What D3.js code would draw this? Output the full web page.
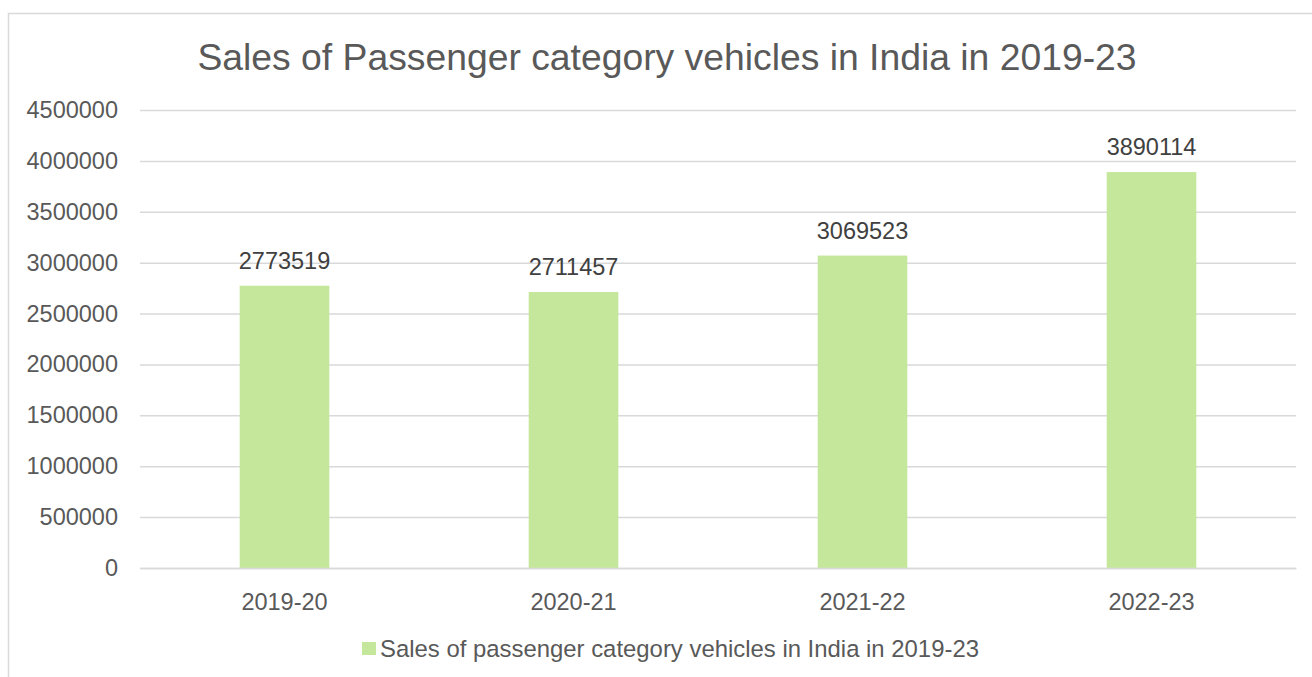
<!DOCTYPE html>
<html>
<head>
<meta charset="utf-8">
<script src="https://cdn.jsdelivr.net/npm/d3@7"></script>
<style>
  html, body { margin: 0; padding: 0; background: #fff; }
  svg { display: block; font-family: "Liberation Sans", Arial, sans-serif; }
</style>
</head>
<body>
<svg id="chart" width="1312" height="677"></svg>
<script>
// Passenger vehicle sales by fiscal year
const years = ["2019-20", "2020-21", "2021-22", "2022-23"];
const sales = [2773519, 2711457, 3069523, 3890114];
const yTicks = [0, 500000, 1000000, 1500000, 2000000, 2500000, 3000000, 3500000, 4000000, 4500000];
const chartTitle = "Sales of Passenger category vehicles in India in 2019-23";
const seriesName = "Sales of passenger category vehicles in India in 2019-23";

const W = 1312, H = 677;
const plot = { left: 140, right: 1296, top: 110, bottom: 568 };
const textColor = "#595959";
const gridColor = "#d9d9d9";
const barColor = "#c5e79b";

const svg = d3.select("#chart");

// chart area outline (continues past the right and bottom edges)
svg.append("rect")
  .attr("x", 8.5).attr("y", 13.5)
  .attr("width", 1340).attr("height", 700)
  .attr("fill", "#fff")
  .attr("stroke", gridColor).attr("stroke-width", 1.5);

const x = d3.scaleBand().domain(years).range([plot.left, plot.right]).paddingInner(0.69).paddingOuter(0.345);
const y = d3.scaleLinear().domain([0, 4500000]).range([plot.bottom, plot.top]);

// horizontal gridlines + value labels
const yAxis = d3.axisLeft(y).tickValues(yTicks).tickSize(-(plot.right - plot.left)).tickPadding(22).tickFormat(d3.format("d"));
const gy = svg.append("g").attr("transform", `translate(${plot.left},0)`).call(yAxis);
gy.select(".domain").remove();
gy.selectAll(".tick line").attr("stroke", gridColor).attr("stroke-width", 1.5);
gy.selectAll(".tick text").attr("fill", textColor).attr("font-size", 23.5).attr("font-family", "Liberation Sans, Arial, sans-serif");

// bars
svg.append("g").selectAll("rect").data(years).join("rect")
  .attr("x", d => x(d))
  .attr("width", x.bandwidth())
  .attr("y", (d, i) => y(sales[i]))
  .attr("height", (d, i) => y(0) - y(sales[i]))
  .attr("fill", barColor);

// value labels above bars
svg.append("g").selectAll("text").data(years).join("text")
  .attr("x", d => x(d) + x.bandwidth() / 2)
  .attr("y", (d, i) => y(sales[i]) - 17)
  .attr("text-anchor", "middle")
  .attr("font-size", 23.5)
  .attr("fill", "#404040")
  .text((d, i) => sales[i]);

// category axis
const xAxis = d3.axisBottom(x).tickSize(0).tickPadding(25);
const gx = svg.append("g").attr("transform", `translate(0,${plot.bottom})`).call(xAxis);
gx.select(".domain").attr("stroke", gridColor).attr("stroke-width", 1.5);
gx.selectAll(".tick text").attr("fill", textColor).attr("font-size", 23.5).attr("font-family", "Liberation Sans, Arial, sans-serif");

// title
svg.append("text")
  .attr("x", 667).attr("y", 70)
  .attr("text-anchor", "middle")
  .attr("font-size", 37.3)
  .attr("fill", textColor)
  .text(chartTitle);

// legend
const legend = svg.append("g").attr("transform", "translate(362,642)");
legend.append("rect").attr("width", 14).attr("height", 13).attr("fill", barColor);
legend.append("text").attr("x", 18).attr("y", 15)
  .attr("font-size", 23.9).attr("fill", textColor)
  .text(seriesName);
</script>
</body>
</html>
